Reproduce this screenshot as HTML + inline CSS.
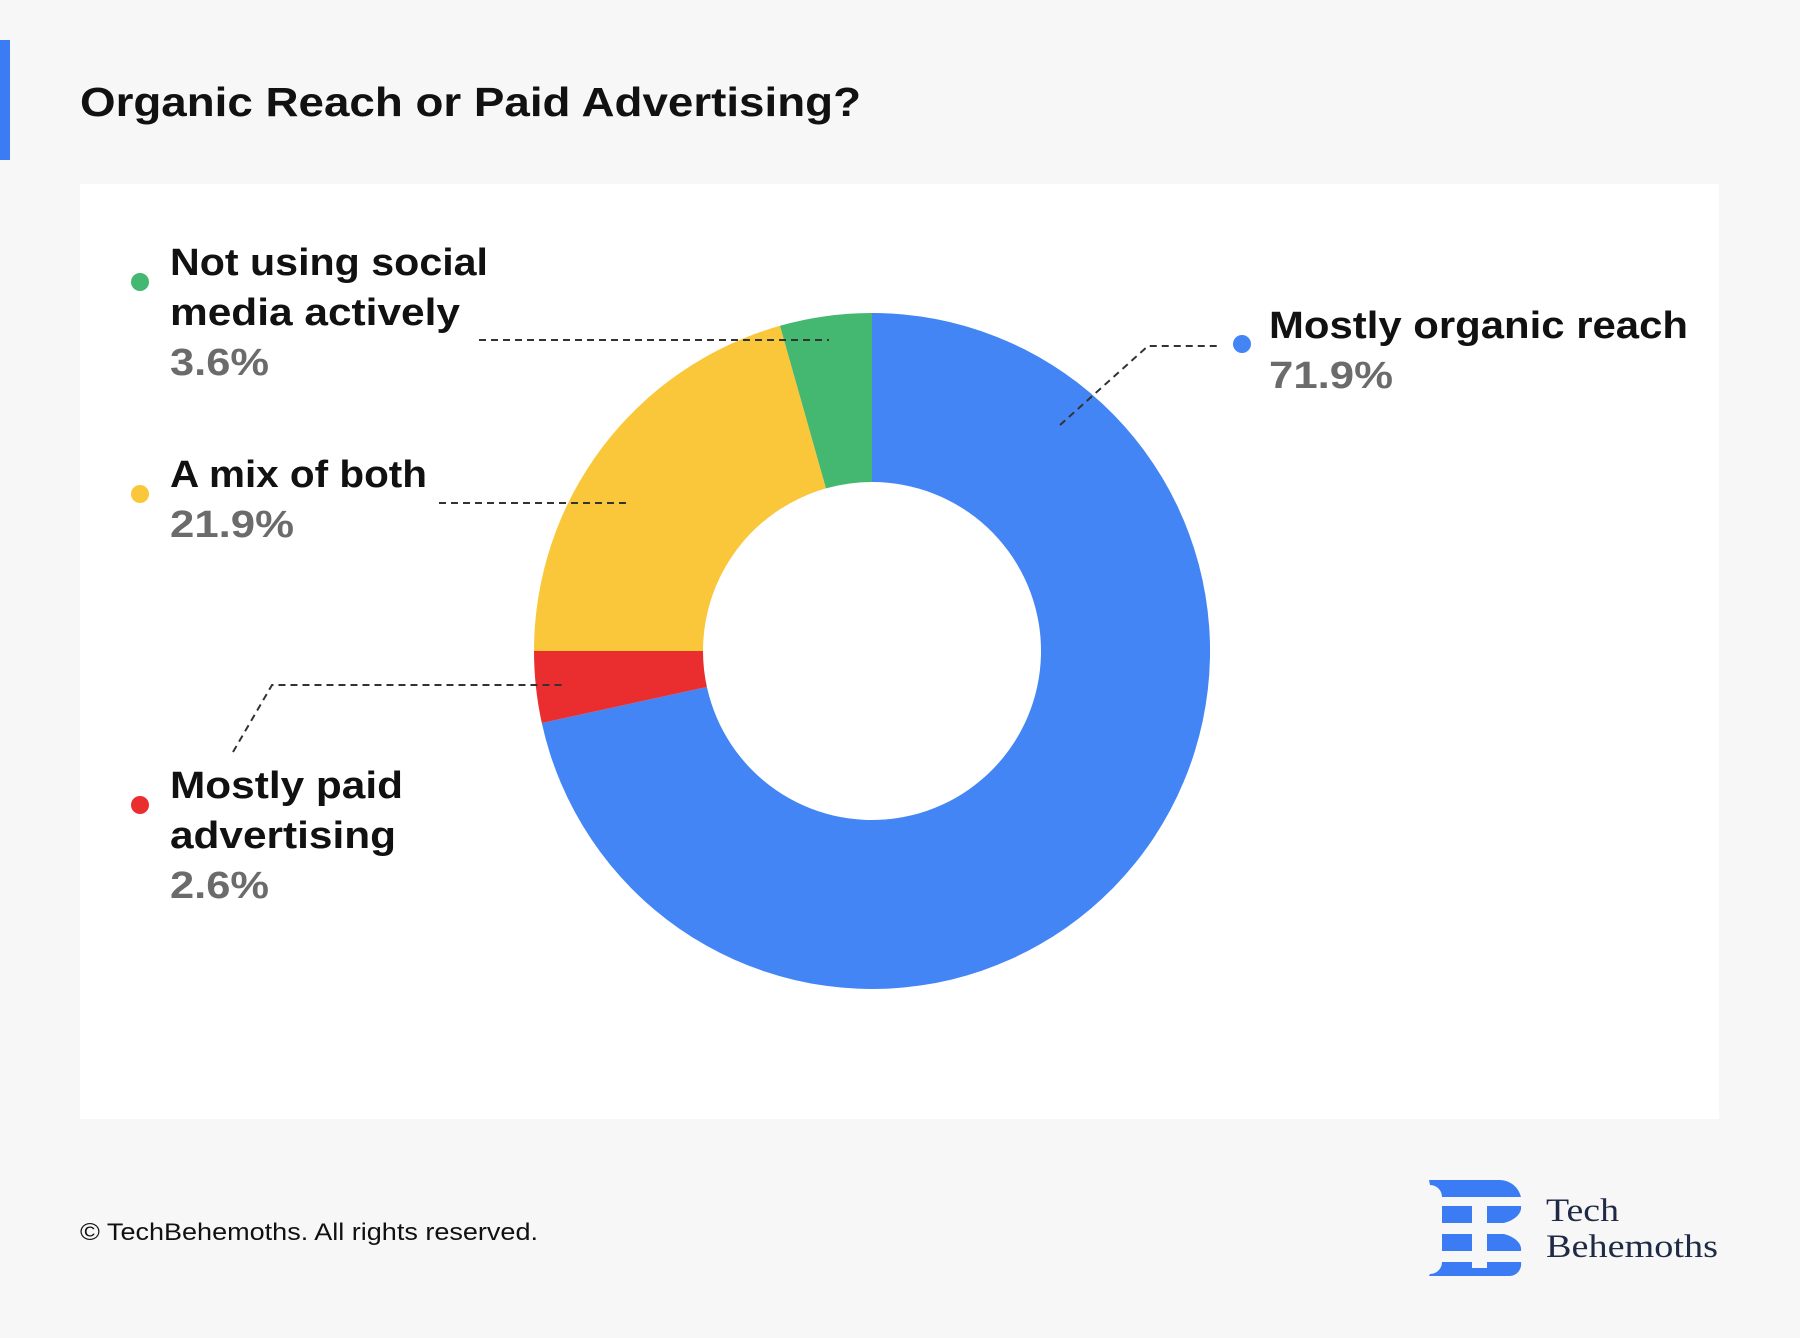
<!DOCTYPE html>
<html><head><meta charset="utf-8"><style>
body{margin:0;width:1800px;height:1338px;background:#f7f7f7;font-family:"Liberation Sans",sans-serif;overflow:hidden}
</style></head><body>
<svg width="1800" height="1338" xmlns="http://www.w3.org/2000/svg" style="position:absolute;left:0;top:0">
<rect x="0" y="40" width="10" height="120" fill="#3b7cf5"/>
<text x="80" y="116" font-family="Liberation Sans" font-weight="bold" font-size="41" fill="#111" textLength="781" lengthAdjust="spacingAndGlyphs">Organic Reach or Paid Advertising?</text>
<rect x="80" y="184" width="1639" height="935" fill="#fff"/>
<path d="M872 313 A338 338 0 1 1 541.8 723 L706.9 687 A169 169 0 1 0 872 482 Z" fill="#4385f4"/>
<path d="M541.8 723 A338 338 0 0 1 534 651 L703 651 A169 169 0 0 0 706.9 687 Z" fill="#ea2e2f"/>
<path d="M534 651 A338 338 0 0 1 780 325.8 L826 488.4 A169 169 0 0 0 703 651 Z" fill="#f9c739"/>
<path d="M780 325.8 A338 338 0 0 1 872 313 L872 482 A169 169 0 0 0 826 488.4 Z" fill="#44b771"/>
<g stroke="#333" stroke-width="2" stroke-dasharray="7,5" fill="none">
<path d="M479 340 H829"/>
<path d="M439 503 H627"/>
<path d="M233 752 L272 685 H563"/>
<path d="M1060 425 L1148 346 H1220"/>
</g>
<g font-family="Liberation Sans" font-weight="bold" font-size="38" lengthAdjust="spacingAndGlyphs">
<circle cx="140" cy="282" r="9" fill="#44b771"/>
<text x="170" y="275" fill="#111" textLength="318" lengthAdjust="spacingAndGlyphs">Not using social</text>
<text x="170" y="325" fill="#111" textLength="290" lengthAdjust="spacingAndGlyphs">media actively</text>
<text x="170" y="375" fill="#6b6b6b" textLength="99" lengthAdjust="spacingAndGlyphs">3.6%</text>
<circle cx="140" cy="494" r="9" fill="#f9c739"/>
<text x="170" y="487" fill="#111" textLength="257" lengthAdjust="spacingAndGlyphs">A mix of both</text>
<text x="170" y="537" fill="#6b6b6b" textLength="124" lengthAdjust="spacingAndGlyphs">21.9%</text>
<circle cx="140" cy="805" r="9" fill="#ea2e2f"/>
<text x="170" y="798" fill="#111" textLength="233" lengthAdjust="spacingAndGlyphs">Mostly paid</text>
<text x="170" y="848" fill="#111" textLength="226" lengthAdjust="spacingAndGlyphs">advertising</text>
<text x="170" y="898" fill="#6b6b6b" textLength="99" lengthAdjust="spacingAndGlyphs">2.6%</text>
<circle cx="1242" cy="344" r="9" fill="#4385f4"/>
<text x="1269" y="338" fill="#111" textLength="419" lengthAdjust="spacingAndGlyphs">Mostly organic reach</text>
<text x="1269" y="388" fill="#6b6b6b" textLength="124" lengthAdjust="spacingAndGlyphs">71.9%</text>
</g>
<text x="80" y="1240" font-family="Liberation Sans" font-size="24" fill="#111" textLength="458" lengthAdjust="spacingAndGlyphs">© TechBehemoths. All rights reserved.</text>
<g fill="#3b7cf5">
<path d="M1429 1180 H1500 A22 22 0 0 1 1521 1197 H1442 A12 12 0 0 0 1430 1185 Z"/>
<rect x="1442" y="1206" width="30" height="17"/>
<path d="M1487 1206 H1521 A30 17 0 0 1 1504 1223 H1487 Z"/>
<rect x="1442" y="1234" width="30" height="17"/>
<path d="M1487 1234 H1504 A30 17 0 0 1 1521 1251 H1487 Z"/>
<path d="M1442 1262 A12 12 0 0 1 1430 1274 L1429 1276 H1510 A12 12 0 0 0 1521 1262 H1487 V1268 H1472 V1262 Z"/>
</g>
<text x="1546" y="1221" font-family="Liberation Serif" font-size="33" fill="#1f2a44" textLength="73" lengthAdjust="spacingAndGlyphs">Tech</text>
<text x="1546" y="1257" font-family="Liberation Serif" font-size="33" fill="#1f2a44" textLength="172" lengthAdjust="spacingAndGlyphs">Behemoths</text>
</svg>
</body></html>
